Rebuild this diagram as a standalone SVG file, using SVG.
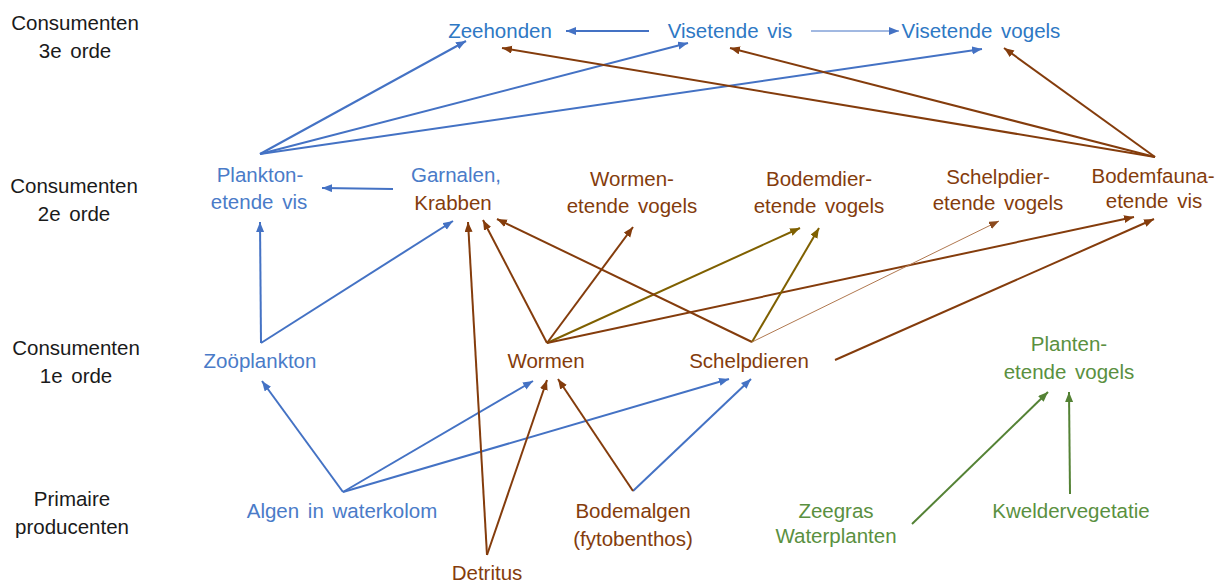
<svg xmlns="http://www.w3.org/2000/svg" width="1216" height="582" viewBox="0 0 1216 582">
<defs>
<style>
text{font-family:"Liberation Sans",Arial,sans-serif;font-size:20.5px;text-anchor:middle;word-spacing:3px}
.k{fill:#1a1a1a}
.b1{fill:#2E78C4}
.b2{fill:#4A7BC8}
.br{fill:#843C0C}
.gr{fill:#5A9040}
.lb{stroke:#4472C4;stroke-width:2;fill:none;marker-end:url(#ab)}
.lbt{stroke:#4472C4;stroke-width:1;fill:none;marker-end:url(#ab)}
.lr{stroke:#843C0C;stroke-width:2;fill:none;marker-end:url(#ar)}
.lrt{stroke:#B07850;stroke-width:1;fill:none;marker-end:url(#arl)}
.lo{stroke:#7F6000;stroke-width:2;fill:none;marker-end:url(#ao)}
.lg{stroke:#548235;stroke-width:2;fill:none;marker-end:url(#ag)}
</style>
<marker id="ab" markerUnits="userSpaceOnUse" markerWidth="11" markerHeight="9" refX="10" refY="4" orient="auto"><path d="M0,0 L10,4 L0,8 z" fill="#4472C4"/></marker>
<marker id="ar" markerUnits="userSpaceOnUse" markerWidth="11" markerHeight="9" refX="10" refY="4" orient="auto"><path d="M0,0 L10,4 L0,8 z" fill="#843C0C"/></marker>
<marker id="arl" markerUnits="userSpaceOnUse" markerWidth="11" markerHeight="9" refX="10" refY="4" orient="auto"><path d="M0,0 L10,4 L0,8 z" fill="#8B4A1E"/></marker>
<marker id="ao" markerUnits="userSpaceOnUse" markerWidth="11" markerHeight="9" refX="10" refY="4" orient="auto"><path d="M0,0 L10,4 L0,8 z" fill="#7F6000"/></marker>
<marker id="ag" markerUnits="userSpaceOnUse" markerWidth="11" markerHeight="9" refX="10" refY="4" orient="auto"><path d="M0,0 L10,4 L0,8 z" fill="#548235"/></marker>
</defs>
<rect width="1216" height="582" fill="#ffffff"/>
<g id="levels">
<text class="k" x="75" y="30">Consumenten</text>
<text class="k" x="75" y="58">3e orde</text>
<text class="k" x="74" y="193">Consumenten</text>
<text class="k" x="74" y="221">2e orde</text>
<text class="k" x="76" y="355">Consumenten</text>
<text class="k" x="76" y="383">1e orde</text>
<text class="k" x="72" y="506">Primaire</text>
<text class="k" x="72" y="534">producenten</text>
</g>
<g id="connectors">
<line class="lb" x1="649" y1="31" x2="566" y2="31"/>
<line class="lbt" x1="811" y1="31" x2="899" y2="31"/>
<line class="lb" x1="260" y1="154" x2="466" y2="41"/>
<line class="lb" x1="260" y1="154" x2="688" y2="43"/>
<line class="lb" x1="260" y1="154" x2="982" y2="49"/>
<line class="lb" x1="393" y1="189" x2="322" y2="188"/>
<line class="lb" x1="261" y1="343" x2="260" y2="222"/>
<line class="lb" x1="261" y1="343" x2="453" y2="221"/>
<line class="lb" x1="343" y1="492" x2="262" y2="381"/>
<line class="lb" x1="343" y1="492" x2="533" y2="381"/>
<line class="lb" x1="343" y1="492" x2="729" y2="379"/>
<line class="lb" x1="633" y1="491" x2="751" y2="379"/>
<line class="lr" x1="633" y1="491" x2="558" y2="379"/>
<line class="lr" x1="487" y1="555" x2="547" y2="380"/>
<line class="lr" x1="487" y1="555" x2="468" y2="222"/>
<line class="lr" x1="547" y1="343" x2="483" y2="220"/>
<line class="lr" x1="547" y1="343" x2="633" y2="227"/>
<line class="lo" x1="547" y1="343" x2="800" y2="228"/>
<line class="lr" x1="547" y1="343" x2="1134" y2="217"/>
<line class="lr" x1="752" y1="342" x2="497" y2="219"/>
<line class="lo" x1="752" y1="342" x2="819" y2="228"/>
<line class="lrt" x1="752" y1="342" x2="999" y2="221"/>
<line class="lr" x1="835" y1="360" x2="1154" y2="219"/>
<line class="lr" x1="1155" y1="157" x2="502" y2="48"/>
<line class="lr" x1="1155" y1="157" x2="730" y2="48"/>
<line class="lr" x1="1155" y1="157" x2="1004" y2="48"/>
<line class="lg" x1="912" y1="524" x2="1048" y2="392"/>
<line class="lg" x1="1070" y1="494" x2="1069" y2="392"/>
</g>
<g id="zeehonden"><text class="b1" x="500" y="38">Zeehonden</text></g>
<g id="visetende-vis"><text class="b1" x="730" y="38">Visetende vis</text></g>
<g id="visetende-vogels"><text class="b1" x="981" y="38">Visetende vogels</text></g>
<g id="planktonetende-vis"><text class="b2" x="260" y="182">Plankton-</text><text class="b2" x="259" y="209">etende vis</text></g>
<g id="garnalen-krabben"><text class="b2" x="456" y="182">Garnalen,</text><text class="br" x="453" y="210">Krabben</text></g>
<g id="wormenetende-vogels"><text class="br" x="632" y="186">Wormen-</text><text class="br" x="632" y="213">etende vogels</text></g>
<g id="bodemdieretende-vogels"><text class="br" x="819" y="186">Bodemdier-</text><text class="br" x="819" y="213">etende vogels</text></g>
<g id="schelpdieretende-vogels"><text class="br" x="998" y="184">Schelpdier-</text><text class="br" x="998" y="210">etende vogels</text></g>
<g id="bodemfaunaetende-vis"><text class="br" x="1153" y="183">Bodemfauna-</text><text class="br" x="1154" y="208">etende vis</text></g>
<g id="zooplankton"><text class="b2" x="260" y="368">Zoöplankton</text></g>
<g id="wormen"><text class="br" x="546" y="368">Wormen</text></g>
<g id="schelpdieren"><text class="br" x="749" y="368">Schelpdieren</text></g>
<g id="plantenetende-vogels"><text class="gr" x="1069" y="351">Planten-</text><text class="gr" x="1069" y="379">etende vogels</text></g>
<g id="algen"><text class="b2" x="342" y="518">Algen in waterkolom</text></g>
<g id="bodemalgen"><text class="br" x="633" y="518">Bodemalgen</text><text class="br" x="633" y="546">(fytobenthos)</text></g>
<g id="detritus"><text class="br" x="487" y="580">Detritus</text></g>
<g id="zeegras"><text class="gr" x="836" y="518">Zeegras</text><text class="gr" x="836" y="543">Waterplanten</text></g>
<g id="kweldervegetatie"><text class="gr" x="1071" y="518">Kweldervegetatie</text></g>
</svg>
